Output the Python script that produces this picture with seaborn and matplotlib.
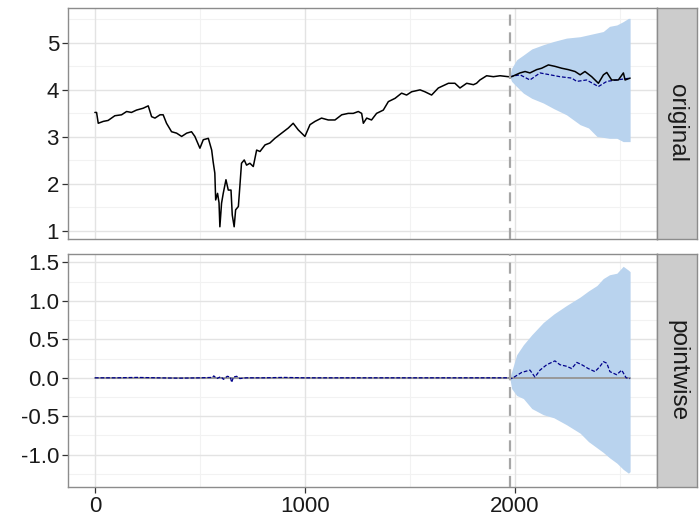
import matplotlib
matplotlib.use("Agg")
import matplotlib.pyplot as plt
import seaborn as sns
import pandas as pd

# ---- observed series (time index, value) ----
t_obs = [0, 8, 16, 40, 63, 95, 127, 151, 174, 198, 230, 254, 270, 286, 310, 325,
         341, 365, 389, 413, 437, 460, 476, 500, 516, 540, 556, 563, 571, 575, 584,
         591, 595, 603, 611, 624, 635, 648, 654, 663, 670, 683, 690, 698, 711, 722,
         738, 754, 770, 786, 810, 833, 857, 889, 921, 944, 968, 1000, 1024, 1048,
         1079, 1111, 1143, 1175, 1206, 1230, 1254, 1270, 1278, 1294, 1317, 1341,
         1373, 1397, 1429, 1460, 1484, 1508, 1548, 1571, 1603, 1635, 1683, 1714,
         1738, 1770, 1802, 1817, 1833, 1865, 1897, 1929, 1968, 1984, 2024, 2048,
         2071, 2103, 2127, 2159, 2190, 2222, 2254, 2286, 2310, 2333, 2365, 2397,
         2421, 2437, 2460, 2492, 2516, 2524, 2548]
y_obs = [3.52, 3.52, 3.29, 3.33, 3.35, 3.45, 3.47, 3.54, 3.52, 3.57, 3.61, 3.66,
         3.43, 3.40, 3.47, 3.47, 3.29, 3.11, 3.08, 3.01, 3.08, 3.11, 3.01, 2.76,
         2.94, 2.97, 2.72, 2.47, 2.23, 1.66, 1.80, 1.60, 1.09, 1.59, 1.80, 2.09,
         1.87, 1.87, 1.34, 1.09, 1.45, 1.52, 1.94, 2.44, 2.51, 2.40, 2.44, 2.37,
         2.72, 2.69, 2.83, 2.87, 2.97, 3.08, 3.19, 3.29, 3.15, 3.01, 3.26, 3.33,
         3.40, 3.36, 3.36, 3.47, 3.50, 3.50, 3.54, 3.50, 3.29, 3.40, 3.36, 3.50,
         3.57, 3.75, 3.82, 3.93, 3.89, 3.96, 4.00, 3.96, 3.89, 4.04, 4.14, 4.14,
         4.04, 4.14, 4.11, 4.14, 4.21, 4.30, 4.28, 4.30, 4.28, 4.28, 4.36, 4.39,
         4.36, 4.43, 4.46, 4.53, 4.50, 4.46, 4.43, 4.39, 4.32, 4.39, 4.28, 4.14,
         4.32, 4.37, 4.21, 4.21, 4.36, 4.21, 4.25]

intervention = 1975

# ---- counterfactual prediction after the intervention ----
t_pred = [1975, 2024, 2071, 2119, 2167, 2214, 2270, 2294, 2341, 2397, 2437, 2484, 2548]
y_pred = [4.28, 4.32, 4.21, 4.36, 4.32, 4.28, 4.25, 4.18, 4.21, 4.07, 4.18, 4.21, 4.25]

# ---- credible interval bounds ----
t_band = [1975, 1984, 2008, 2040, 2080, 2135, 2185, 2245, 2310, 2350, 2390, 2420,
          2450, 2485, 2515, 2540, 2548]
pred_upper = [4.28, 4.46, 4.64, 4.74, 4.87, 4.96, 5.03, 5.10, 5.13, 5.17, 5.21,
              5.24, 5.35, 5.38, 5.45, 5.52, 5.52]
pred_lower = [4.28, 4.18, 4.07, 3.93, 3.82, 3.72, 3.60, 3.47, 3.26, 3.19, 3.01,
              2.99, 2.97, 2.97, 2.90, 2.90, 2.90]
effect_upper = [0.0, 0.08, 0.30, 0.43, 0.56, 0.72, 0.83, 0.94, 1.05, 1.13, 1.20,
                1.29, 1.34, 1.36, 1.45, 1.40, 1.38]
effect_lower = [0.0, -0.14, -0.23, -0.27, -0.40, -0.48, -0.52, -0.61, -0.72, -0.83,
                -0.91, -0.97, -1.04, -1.11, -1.19, -1.24, -1.22]

# ---- pointwise effect ----
t_effect = [0, 100, 200, 300, 400, 500, 560, 566, 580, 600, 612, 630, 645, 651,
            660, 675, 690, 720, 800, 900, 1000, 1200, 1400, 1600, 1800, 1975,
            1984, 2032, 2071, 2095, 2119, 2151, 2190, 2214, 2246, 2270, 2294,
            2318, 2349, 2381, 2405, 2421, 2437, 2452, 2484, 2508, 2529, 2548]
effect = [0.0, 0.0, 0.005, 0.0, -0.005, 0.0, 0.005, 0.025, -0.01, 0.015, -0.02,
          0.02, 0.01, -0.06, 0.01, 0.02, -0.01, 0.0, 0.0, 0.005, 0.0, 0.0, 0.0,
          0.0, 0.0, 0.0, -0.01, 0.07, 0.10, 0.01, 0.10, 0.17, 0.22, 0.17, 0.15,
          0.12, 0.20, 0.17, 0.12, 0.08, 0.15, 0.21, 0.19, 0.08, 0.04, 0.10, 0.0,
          -0.01]

panel_labels = ["original", "pointwise"]
x_ticks = [0, 1000, 2000]
y_ticks_top = [1, 2, 3, 4, 5]
y_ticks_bottom = [-1.0, -0.5, 0.0, 0.5, 1.0, 1.5]

sns.set_theme(style="white")
plt.rcParams["font.family"] = ["Liberation Sans", "DejaVu Sans"]

BAND = "#B9D3EE"
PRED = "#00008B"
GRID_MAJOR = "#E3E3E3"
GRID_MINOR = "#F2F2F2"
BORDER = "#8C8C8C"

fig = plt.figure(figsize=(7.0, 5.27), dpi=100)
left, width = 68 / 700, (657 - 68) / 700
strip_left, strip_w = 657 / 700, 40 / 700
top_box = (1 - 239 / 527, 231 / 527)
bot_box = (1 - 487 / 527, 233 / 527)

ax_top = fig.add_axes([left, top_box[0], width, top_box[1]])
ax_bot = fig.add_axes([left, bot_box[0], width, bot_box[1]], sharex=ax_top)

obs_df = pd.DataFrame({"t": t_obs, "y": y_obs})
pred_df = pd.DataFrame({"t": t_pred, "y": y_pred})
eff_df = pd.DataFrame({"t": t_effect, "y": effect})


def style_panel(ax, yticks, minor_y, ylim):
    ax.set_xlim(-128, 2676)
    ax.set_ylim(*ylim)
    for v in [500, 1500, 2500]:
        ax.axvline(v, color=GRID_MINOR, lw=0.8, zorder=0)
    for v in minor_y:
        ax.axhline(v, color=GRID_MINOR, lw=0.8, zorder=0)
    for v in x_ticks:
        ax.axvline(v, color=GRID_MAJOR, lw=1.0, zorder=0)
    for v in yticks:
        ax.axhline(v, color=GRID_MAJOR, lw=1.0, zorder=0)
    ax.set_yticks(yticks)
    ax.set_xticks(x_ticks)
    ax.tick_params(axis="both", which="major", length=4, width=0.9,
                   color="#333333", labelsize=16, labelcolor="#1A1A1A",
                   direction="out", pad=2.5)
    ax.tick_params(left=True, bottom=True)
    for sp in ax.spines.values():
        sp.set_color(BORDER)
        sp.set_linewidth(1.0)
    ax.set_xlabel("")
    ax.set_ylabel("")
    ax.axvline(intervention, color="#A6A6A6", lw=1.6, dashes=(5, 3), zorder=6)


# top panel: observed, prediction and interval
ax_top.fill_between(t_band, pred_lower, pred_upper, color=BAND, lw=0, zorder=1)
sns.lineplot(data=pred_df, x="t", y="y", ax=ax_top, color=PRED, lw=0.9,
             estimator=None, sort=False, zorder=3)
ax_top.lines[-1].set_dashes((3, 1.5))
sns.lineplot(data=obs_df, x="t", y="y", ax=ax_top, color="black", lw=1.1,
             estimator=None, sort=False, zorder=4)
style_panel(ax_top, y_ticks_top, [1.5, 2.5, 3.5, 4.5, 5.5], (0.83, 5.74))
ax_top.set_yticklabels([str(v) for v in y_ticks_top])
ax_top.tick_params(labelbottom=False, bottom=False)

# bottom panel: pointwise effect
ax_bot.fill_between(t_band, effect_lower, effect_upper, color=BAND, lw=0, zorder=1)
ax_bot.plot([t_obs[0], t_obs[-1]], [0, 0], color="#999999", lw=1.4, zorder=2)
sns.lineplot(data=eff_df, x="t", y="y", ax=ax_bot, color=PRED, lw=0.9,
             estimator=None, sort=False, zorder=3)
ax_bot.lines[-1].set_dashes((3, 1.5))
style_panel(ax_bot, y_ticks_bottom, [-1.25, -0.75, -0.25, 0.25, 0.75, 1.25],
            (-1.42, 1.61))
ax_bot.set_yticklabels([f"{v:.1f}" for v in y_ticks_bottom])
ax_bot.set_xticklabels([str(v) for v in x_ticks])

# facet strips on the right
for box, label in zip([top_box, bot_box], panel_labels):
    sax = fig.add_axes([strip_left, box[0], strip_w, box[1]])
    sax.set_facecolor("#CCCCCC")
    sax.set_xticks([])
    sax.set_yticks([])
    for sp in sax.spines.values():
        sp.set_color(BORDER)
        sp.set_linewidth(1.0)
    sax.text(0.5, 0.5, label, rotation=-90, ha="center", va="center",
             fontsize=17.5, color="#1A1A1A", transform=sax.transAxes)

fig.savefig("out.png", dpi=100)
